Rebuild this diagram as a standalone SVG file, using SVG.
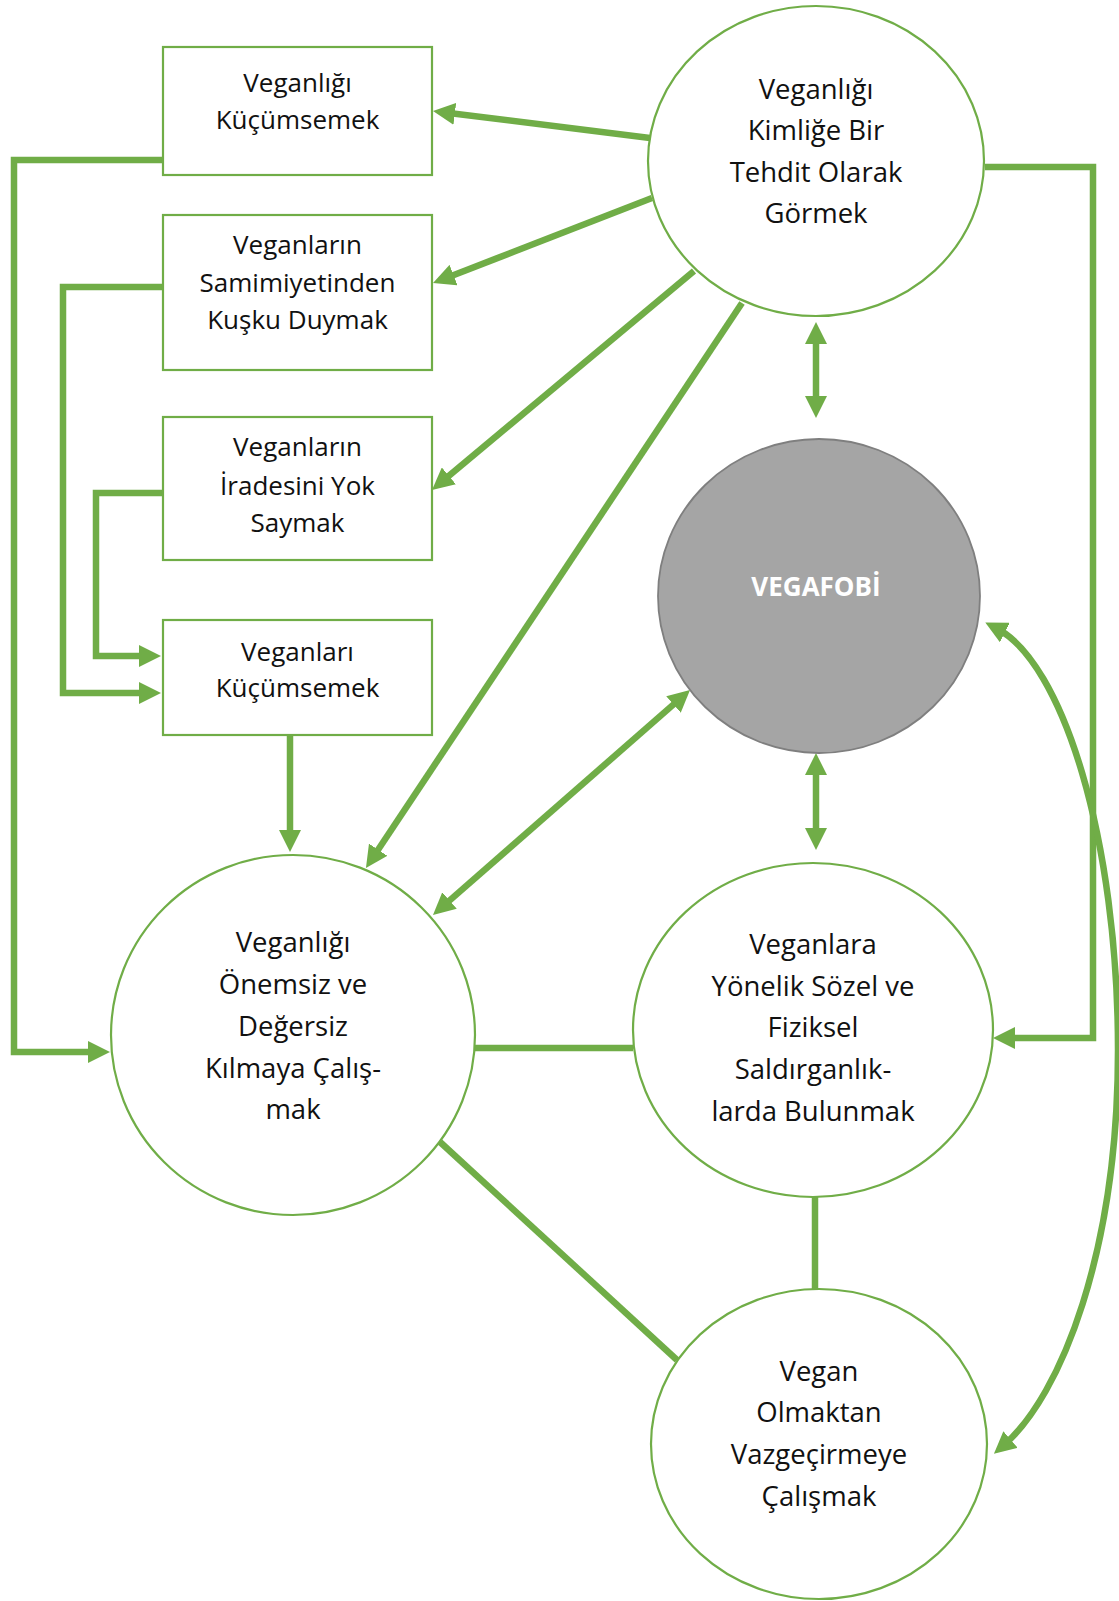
<svg xmlns="http://www.w3.org/2000/svg" width="1119" height="1601" viewBox="0 0 1119 1601">
<style>
.bg{fill:#ffffff}
.box{fill:#ffffff;stroke:#70ad47;stroke-width:2.2}
.node{fill:#ffffff;stroke:#70ad47;stroke-width:2.2}
.core{fill:#a5a5a5;stroke:#7f7f7f;stroke-width:1.8}
.t{font-family:"Open Sans","Noto Sans","Liberation Sans",sans-serif;font-size:26px;fill:#111111;text-anchor:middle}
.tc{font-family:"Open Sans","Noto Sans","Liberation Sans",sans-serif;font-size:27.5px;fill:#111111;text-anchor:middle}
.tw{font-family:"Open Sans","Noto Sans","Liberation Sans",sans-serif;font-size:26px;font-weight:bold;fill:#ffffff;text-anchor:middle}
.c{fill:none;stroke:#70ad47;stroke-width:6.5;stroke-linejoin:miter}
.a{marker-end:url(#ah)}
.d{marker-start:url(#ah);marker-end:url(#ah)}
</style>
<defs>
<marker id="ah" viewBox="0 0 22 22" markerUnits="userSpaceOnUse" markerWidth="22" markerHeight="22" refX="10" refY="11" orient="auto-start-reverse">
<path d="M0,0 L22,11 L0,22 z" fill="#70ad47"/>
</marker>
</defs>
<rect class="bg" x="0" y="0" width="1119" height="1601"/>

<g id="connectors">
<path class="c a" d="M650,138 L444.9,112.5"/>
<path class="c a" d="M652,198 L444.2,278.7"/>
<path class="c a" d="M694,271 L441.2,482.3"/>
<path class="c a" d="M742,303 L372.6,858"/>
<path class="c d" d="M816,334 L816,406"/>
<path class="c d" d="M442,907.1 L681,697.9"/>
<path class="c d" d="M816,765 L816,838"/>
<path class="c a" d="M163,160 H14 V1052 H98"/>
<path class="c a" d="M163,287 H63 V693 H149"/>
<path class="c a" d="M163,493 H96 V656 H149"/>
<path class="c a" d="M290,735 V840"/>
<path class="c a" d="M985,167 H1093 V1038 H1005"/>
<path class="c" d="M475,1048 H633"/>
<path class="c" d="M440,1142 L677,1360"/>
<path class="c" d="M815,1197 V1290"/>
<path class="c d" d="M996,628 C1063,662 1118,840 1118,1050 C1118,1250 1062,1395 1003,1446"/>
</g>

<g id="box-veganligi-kucumsemek">
<rect class="box" x="163" y="47" width="269" height="128"/>
<text class="t" x="297.5" y="92">Veganlığı</text>
<text class="t" x="297.5" y="129">Küçümsemek</text>
</g>
<g id="box-samimiyet">
<rect class="box" x="163" y="215" width="269" height="155"/>
<text class="t" x="297.5" y="254">Veganların</text>
<text class="t" x="297.5" y="292">Samimiyetinden</text>
<text class="t" x="297.5" y="329">Kuşku Duymak</text>
</g>
<g id="box-irade">
<rect class="box" x="163" y="417" width="269" height="143"/>
<text class="t" x="297.5" y="456">Veganların</text>
<text class="t" x="297.5" y="495">İradesini Yok</text>
<text class="t" x="297.5" y="532">Saymak</text>
</g>
<g id="box-veganlari-kucumsemek">
<rect class="box" x="163" y="620" width="269" height="115"/>
<text class="t" x="297.5" y="661">Veganları</text>
<text class="t" x="297.5" y="697">Küçümsemek</text>
</g>

<g id="node-tehdit">
<ellipse class="node" cx="816" cy="161" rx="168" ry="155"/>
<text class="tc" x="816" y="99">Veganlığı</text>
<text class="tc" x="816" y="140">Kimliğe Bir</text>
<text class="tc" x="816" y="182">Tehdit Olarak</text>
<text class="tc" x="816" y="223">Görmek</text>
</g>
<g id="node-vegafobi">
<ellipse class="core" cx="819" cy="596" rx="161" ry="157"/>
<text class="tw" x="816" y="596">VEGAFOBİ</text>
</g>
<g id="node-onemsiz">
<ellipse class="node" cx="293" cy="1035" rx="182" ry="180"/>
<text class="tc" x="293" y="952">Veganlığı</text>
<text class="tc" x="293" y="994">Önemsiz ve</text>
<text class="tc" x="293" y="1036">Değersiz</text>
<text class="tc" x="293" y="1078">Kılmaya Çalış-</text>
<text class="tc" x="293" y="1119">mak</text>
</g>
<g id="node-saldirganlik">
<ellipse class="node" cx="813" cy="1030" rx="180" ry="167"/>
<text class="tc" x="813" y="954">Veganlara</text>
<text class="tc" x="813" y="996">Yönelik Sözel ve</text>
<text class="tc" x="813" y="1037">Fiziksel</text>
<text class="tc" x="813" y="1079">Saldırganlık-</text>
<text class="tc" x="813" y="1121">larda Bulunmak</text>
</g>
<g id="node-vazgecirme">
<ellipse class="node" cx="819" cy="1444" rx="168" ry="155"/>
<text class="tc" x="819" y="1381">Vegan</text>
<text class="tc" x="819" y="1422">Olmaktan</text>
<text class="tc" x="819" y="1464">Vazgeçirmeye</text>
<text class="tc" x="819" y="1506">Çalışmak</text>
</g>
</svg>
